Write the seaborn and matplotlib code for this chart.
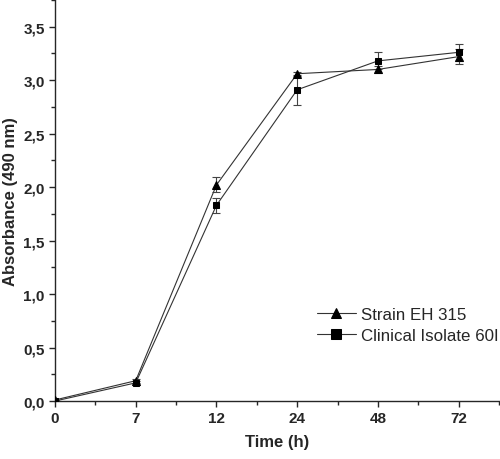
import numpy as np
import pandas as pd
import seaborn as sns
import matplotlib.pyplot as plt
from matplotlib.ticker import MultipleLocator, FixedLocator

# time points (h), plotted at equal spacing
times = ["0", "7", "12", "24", "48", "72"]

strain_abs = [0.01, 0.19, 2.02, 3.06, 3.10, 3.22]
strain_err = [0.00, 0.02, 0.07, 0.02, 0.03, 0.07]

clinical_abs = [0.00, 0.17, 1.83, 2.91, 3.18, 3.26]
clinical_err = [0.00, 0.02, 0.07, 0.14, 0.08, 0.08]

series = ["Strain EH 315", "Clinical Isolate 60I"]

sns.set_style("ticks")
plt.rcParams["font.family"] = ["Liberation Sans", "DejaVu Sans"]

idx = np.arange(len(times))
df = pd.DataFrame({
    "pos": np.concatenate([idx, idx]),
    "absorbance": strain_abs + clinical_abs,
    "err": strain_err + clinical_err,
    "series": [series[0]] * len(times) + [series[1]] * len(times),
})

fig, ax = plt.subplots(figsize=(5, 4.6), dpi=100)
fig.subplots_adjust(left=0.11, right=0.998, bottom=0.126, top=0.998)

sns.lineplot(data=df, x="pos", y="absorbance", hue="series", style="series",
             palette=["black", "black"], markers=["^", "s"], dashes=False,
             markersize=6, linewidth=0.8, ax=ax, zorder=3)

for name, g in df.groupby("series", sort=False):
    ax.errorbar(g["pos"], g["absorbance"], yerr=g["err"], fmt="none",
                ecolor="#444444", elinewidth=0.8, capsize=3, capthick=0.8, zorder=2)

# line colour slightly grey like the original
lines = ax.get_lines()[:2]
for ln in lines:
    ln.set_color("#333333")
    ln.set_markerfacecolor("black")
    ln.set_markeredgecolor("black")
lines[1].set_markersize(5)

ax.set_xlim(0, 5.5)
ax.set_ylim(0, 3.75)
ax.xaxis.set_major_locator(FixedLocator(idx))
ax.set_xticklabels(times)
ax.xaxis.set_minor_locator(MultipleLocator(0.5))
ax.yaxis.set_major_locator(MultipleLocator(0.5))
ax.yaxis.set_minor_locator(MultipleLocator(0.25))
ax.set_yticklabels([f"{v:.1f}".replace(".", ",") for v in ax.get_yticks()])

ax.tick_params(which="major", length=4, width=1, labelsize=11)
ax.tick_params(which="minor", length=3, width=1)
for lab in ax.get_xticklabels() + ax.get_yticklabels():
    lab.set_fontweight("bold")

for side in ["top", "right"]:
    ax.spines[side].set_visible(False)
for side in ["left", "bottom"]:
    ax.spines[side].set_linewidth(1)

ax.set_xlabel("Time (h)", fontsize=12, fontweight="bold", labelpad=6)
ax.set_ylabel("Absorbance (490 nm)", fontsize=12, fontweight="bold", labelpad=4)

leg = ax.legend(loc="center left", bbox_to_anchor=(0.555, 0.19), frameon=False,
                fontsize=12.2, handlelength=2.3, handletextpad=0.3, labelspacing=0.35)
for h, ms in zip(leg.legend_handles, [7.5, 6.5]):
    h.set_linewidth(0.8)
    h.set_color("#333333")
    h.set_markerfacecolor("black")
    h.set_markeredgecolor("black")
    h.set_markersize(ms)

fig.savefig("out.png", dpi=100)
